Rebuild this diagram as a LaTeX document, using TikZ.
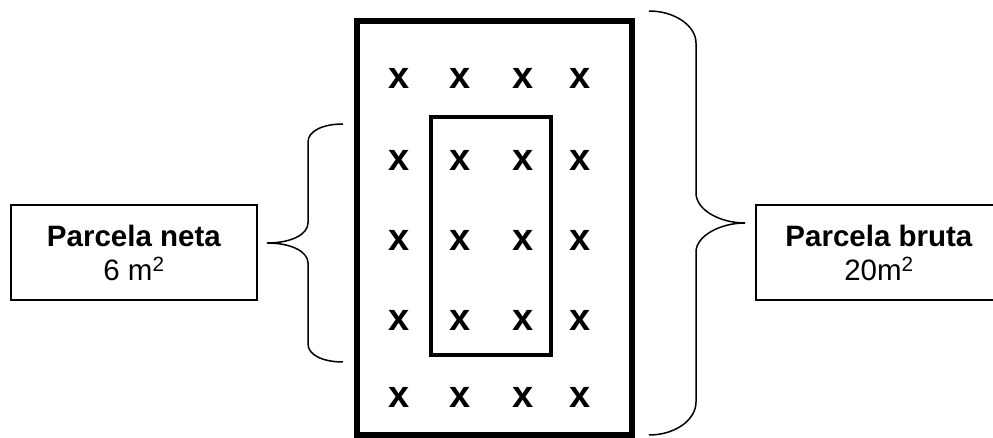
\documentclass[tikz,border=0pt]{standalone}
\usepackage{fontspec}
\setmainfont{Liberation Sans}
\usetikzlibrary{calc}

\begin{document}
\begin{tikzpicture}[x=1pt,y=1pt,
    infobox/.style={draw,line width=1.2pt,minimum width=246pt,minimum height=95pt,
      align=center,font=\fontsize{29.5}{34}\selectfont},
    brace/.style={line width=1.5pt},
    plant/.style={inner sep=0pt,font=\fontsize{38}{38}\selectfont\bfseries}]
  \useasboundingbox (0,0) rectangle (993,438);

  % gross plot and net plot
  \draw[line width=5.5pt] (357,3) rectangle (632,417);
  \draw[line width=4pt] (431,83) rectangle (551,321);

  % plants, 4 columns by 5 rows
  \foreach \x [count=\i] in {399,460,523,580}
    \foreach \y [count=\j] in {360,278,198,118,41}
      \node[plant] (p\i\j) at (\x,\y) {x};

  % braces
  \coordinate (ltip) at (267,195);
  \coordinate (rtip) at (745,215);
  \draw[brace] (343,314) .. controls (323,314) and (308,307) .. (308,296)
    -- (308,215) .. controls (308,204) and (292,195) .. (ltip)
    .. controls (292,195) and (308,186) .. (308,175)
    -- (308,94) .. controls (308,83) and (323,76) .. (343,76);
  \draw[brace] (649,427) .. controls (675,427) and (696,412) .. (696,395)
    -- (696,245) .. controls (696,228) and (720,215) .. (rtip)
    .. controls (720,215) and (696,202) .. (696,186)
    -- (696,36) .. controls (696,18) and (675,3) .. (649,3);

  % labels
  \node[infobox] (neta) at (134,185.5) {\textbf{Parcela neta}\\6 m\textsuperscript{2}};
  \node[infobox] (bruta) at (879,185.5) {\textbf{Parcela bruta}\\20m\textsuperscript{2}};
\end{tikzpicture}
\end{document}
